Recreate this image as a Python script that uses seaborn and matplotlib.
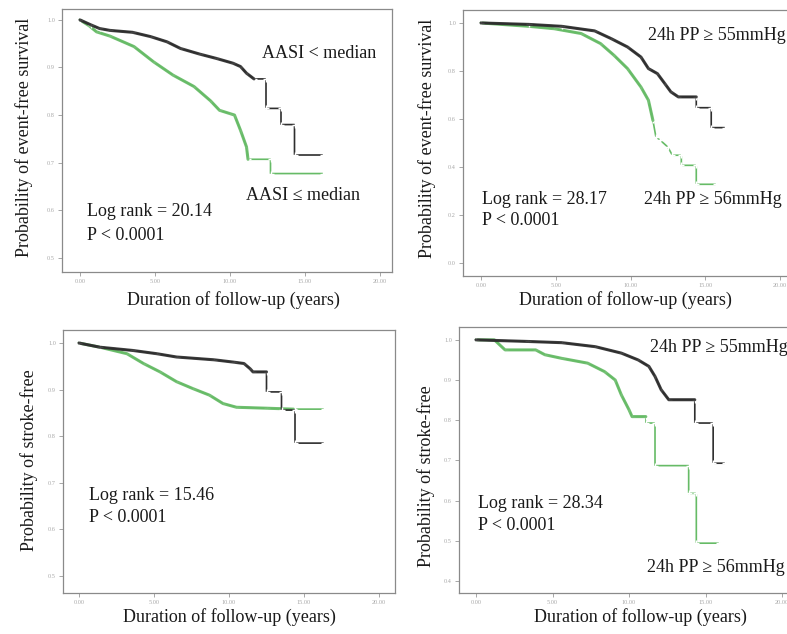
import numpy as np
import pandas as pd
import matplotlib
matplotlib.use("Agg")
import matplotlib.pyplot as plt
import seaborn as sns

sns.set_theme(style="white")
plt.rcParams['font.family'] = ['Liberation Serif', 'DejaVu Serif']

# ---------------- data ----------------
# Panel A: event-free survival by AASI
a_low_t = [0, 0.7, 1.3, 2.0, 3.5, 4.7, 5.8, 6.7, 8.0, 9.1, 10.2, 10.7, 11.1, 11.6, 12.4, 12.4, 13.4, 13.4, 14.3, 14.3, 16.2]
a_low_s = [1.0, 0.990, 0.982, 0.978, 0.974, 0.965, 0.954, 0.940, 0.928, 0.919, 0.909, 0.902, 0.888, 0.876, 0.876, 0.814, 0.814, 0.780, 0.780, 0.716, 0.716]
a_high_t = [0, 0.6, 1.1, 2.0, 3.6, 4.9, 6.2, 7.6, 8.7, 9.3, 10.0, 10.3, 10.7, 11.1, 11.2, 12.7, 12.7, 16.2]
a_high_s = [1.0, 0.988, 0.975, 0.966, 0.944, 0.912, 0.884, 0.860, 0.830, 0.810, 0.803, 0.800, 0.768, 0.733, 0.707, 0.707, 0.677, 0.677]

# Panel B: event-free survival by 24h PP
b_low_t = [0, 3.2, 5.4, 7.6, 8.7, 9.8, 10.7, 11.2, 11.8, 12.3, 12.7, 13.2, 14.4, 14.4, 15.4, 15.4, 16.3]
b_low_s = [1.0, 0.994, 0.986, 0.967, 0.935, 0.900, 0.858, 0.810, 0.789, 0.747, 0.713, 0.692, 0.692, 0.647, 0.647, 0.564, 0.564]
b_high_t = [0, 3.2, 4.9, 6.7, 8.0, 8.9, 9.8, 10.7, 11.2, 11.5, 11.7, 12.0, 12.5, 12.8, 13.4, 13.4, 14.4, 14.4, 15.7]
b_high_s = [1.0, 0.986, 0.976, 0.956, 0.914, 0.865, 0.810, 0.733, 0.678, 0.594, 0.525, 0.511, 0.483, 0.449, 0.449, 0.407, 0.407, 0.328, 0.328]

# Panel C: stroke-free by AASI
c_low_t = [0, 1.4, 3.6, 5.2, 6.5, 9.0, 10.3, 11.0, 11.4, 11.6, 12.5, 12.5, 13.5, 13.5, 14.4, 14.4, 16.3]
c_low_s = [1.0, 0.991, 0.984, 0.977, 0.970, 0.964, 0.959, 0.956, 0.945, 0.938, 0.938, 0.895, 0.895, 0.856, 0.856, 0.785, 0.785]
c_high_t = [0, 1.4, 3.2, 4.3, 5.4, 6.5, 7.6, 8.7, 9.6, 10.5, 12.5, 14.3, 16.3]
c_high_s = [1.0, 0.991, 0.977, 0.956, 0.938, 0.917, 0.902, 0.888, 0.870, 0.862, 0.860, 0.858, 0.858]

# Panel D: stroke-free by 24h PP
d_low_t = [0, 3.4, 5.6, 7.8, 9.5, 10.6, 11.3, 11.7, 12.1, 12.6, 14.3, 14.3, 15.5, 15.5, 16.3]
d_low_s = [1.0, 0.996, 0.993, 0.983, 0.967, 0.950, 0.934, 0.909, 0.876, 0.851, 0.851, 0.793, 0.793, 0.693, 0.693]
d_high_t = [0, 1.2, 1.9, 3.9, 4.5, 5.6, 7.3, 8.4, 9.1, 9.5, 10.0, 10.2, 11.1, 11.1, 11.7, 11.7, 13.9, 13.9, 14.4, 14.4, 15.9]
d_high_s = [1.0, 1.0, 0.975, 0.975, 0.963, 0.954, 0.942, 0.921, 0.900, 0.863, 0.826, 0.809, 0.809, 0.793, 0.793, 0.687, 0.687, 0.618, 0.618, 0.494, 0.494]

x_ticks = [0, 5, 10, 15, 20]
x_ticklabels = ["0.00", "5.00", "10.00", "15.00", "20.00"]

# dense_* = index up to which the curve is drawn bold (dense censor marks)
panels = [
    dict(lo=(a_low_t, a_low_s), hi=(a_high_t, a_high_s), dense_lo=14, dense_hi=15,
         yticks=[1.0, 0.9, 0.8, 0.7, 0.6, 0.5], ylim=(0.47, 1.023),
         box=(62, 9, 392, 272), x0=80, x20=380,
         ylabel="Probability of event-free survival", ylab_xy=(24, 137),
         xlab_xy=(233, 300),
         texts=[("AASI < median", 262, 53), ("AASI ≤ median", 246, 195),
                ("Log rank = 20.14", 87, 212), ("P < 0.0001", 87, 235)]),
    dict(lo=(b_low_t, b_low_s), hi=(b_high_t, b_high_s), dense_lo=13, dense_hi=10,
         yticks=[1.0, 0.8, 0.6, 0.4, 0.2, 0.0], ylim=(-0.054, 1.054),
         box=(463, 10, 792, 276), x0=481, x20=780,
         ylabel="Probability of event-free survival", ylab_xy=(427, 138),
         xlab_xy=(625, 300),
         texts=[("24h PP ≥ 55mmHg", 648, 35), ("24h PP ≥ 56mmHg", 644, 200),
                ("Log rank = 28.17", 482, 200), ("P < 0.0001", 482, 220)]),
    dict(lo=(c_low_t, c_low_s), hi=(c_high_t, c_high_s), dense_lo=11, dense_hi=12,
         yticks=[1.0, 0.9, 0.8, 0.7, 0.6, 0.5], ylim=(0.463, 1.028),
         box=(63, 330, 395, 593), x0=79, x20=379,
         ylabel="Probability of stroke-free", ylab_xy=(29, 460),
         xlab_xy=(229, 617),
         texts=[("Log rank = 15.46", 89, 495), ("P < 0.0001", 89, 518)]),
    dict(lo=(d_low_t, d_low_s), hi=(d_high_t, d_high_s), dense_lo=11, dense_hi=13,
         yticks=[1.0, 0.9, 0.8, 0.7, 0.6, 0.5, 0.4], ylim=(0.37, 1.032),
         box=(459, 327, 792, 593), x0=476, x20=782,
         ylabel="Probability of stroke-free", ylab_xy=(426, 476),
         xlab_xy=(640, 617),
         texts=[("24h PP ≥ 55mmHg", 650, 348), ("24h PP ≥ 56mmHg", 647, 567),
                ("Log rank = 28.34", 478, 504), ("P < 0.0001", 478, 526)]),
]

W, H = 787, 634
fig = plt.figure(figsize=(W / 100, H / 100), dpi=100)
fig.patch.set_facecolor("white")

BLACK = "#2e2e2e"
GREEN = "#66bb66"
FS = 13

for p in panels:
    l, t, r, b = p["box"]
    ax = fig.add_axes([l / W, 1 - b / H, (r - l) / W, (b - t) / H])
    ppy = (p["x20"] - p["x0"]) / 20.0
    ax.set_xlim((l - p["x0"]) / ppy, (r - p["x0"]) / ppy)
    ax.set_ylim(*p["ylim"])

    for (tt, ss), col, dense in [(p["hi"], GREEN, p["dense_hi"]),
                                 (p["lo"], BLACK, p["dense_lo"])]:
        df = pd.DataFrame({"t": tt, "s": ss})
        # thin full curve with censor marks
        sns.lineplot(data=df, x="t", y="s", ax=ax, color=col, lw=1.2,
                     marker="+", markersize=4, markeredgewidth=1.0,
                     estimator=None, sort=False)
        # bold dense part (many overlapping censor marks)
        sns.lineplot(data=df.iloc[:dense], x="t", y="s", ax=ax, color=col,
                     lw=2.2, estimator=None, sort=False, alpha=0.9)

    ax.set_xticks(x_ticks)
    ax.set_xticklabels(x_ticklabels)
    ax.set_yticks(p["yticks"])
    ax.set_yticklabels([f"{v:.1f}" for v in p["yticks"]])
    ax.tick_params(axis="both", labelsize=4.5, labelcolor="#a8a8a8",
                   color="#999999", length=3, width=0.6, direction="out",
                   left=True, bottom=True, pad=2)
    ax.set_xlabel("")
    ax.set_ylabel("")
    for sp in ax.spines.values():
        sp.set_color("#8a8a8a")
        sp.set_linewidth(0.9)
    ax.grid(False)

    fig.text(p["ylab_xy"][0] / W, 1 - p["ylab_xy"][1] / H, p["ylabel"],
             rotation=90, ha="center", va="center", fontsize=FS, color="#1a1a1a")
    fig.text(p["xlab_xy"][0] / W, 1 - p["xlab_xy"][1] / H,
             "Duration of follow-up (years)", ha="center", va="center",
             fontsize=FS, color="#1a1a1a")
    for s, x, y in p["texts"]:
        fig.text(x / W, 1 - y / H, s, ha="left", va="center",
                 fontsize=FS, color="#1a1a1a",
                 family=["Liberation Serif", "DejaVu Serif"])

fig.savefig("out.png", dpi=100, facecolor="white")
